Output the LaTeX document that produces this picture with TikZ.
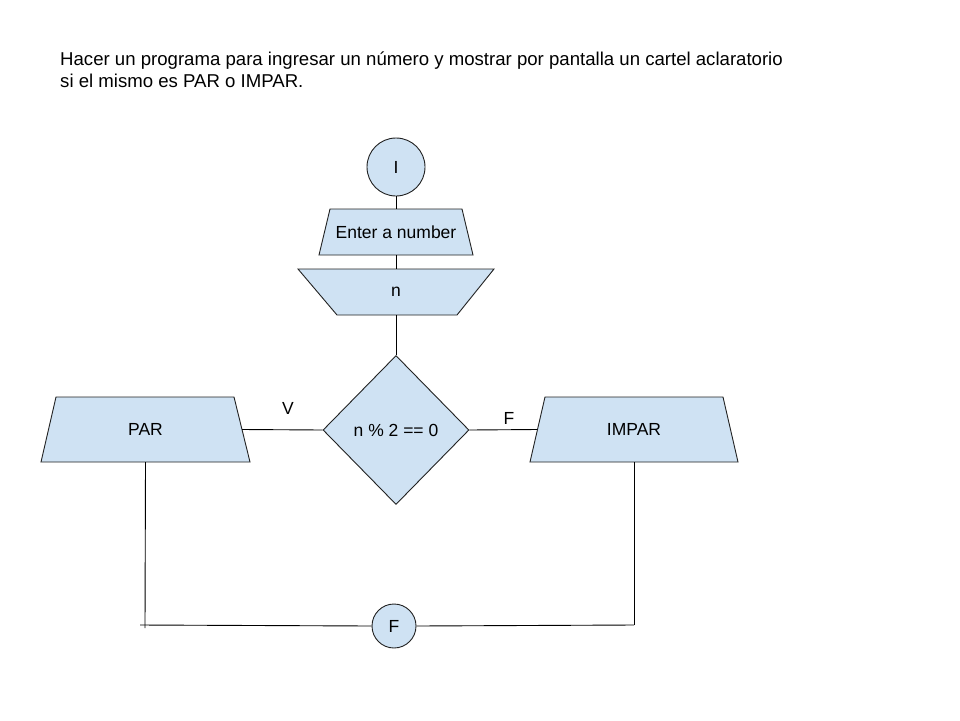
\documentclass[tikz,border=0pt]{standalone}
\usepackage{fontspec}
\setmainfont{Liberation Sans}
\usetikzlibrary{shapes.geometric,calc}
\definecolor{boxblue}{HTML}{CFE2F3}
\definecolor{edge}{HTML}{222222}
\begin{document}
\begin{tikzpicture}[x=1pt,y=-1pt,
  every node/.style={font=\fontsize{17.5}{21}\selectfont},
  hdr/.style={anchor=base west,inner sep=0pt,font=\fontsize{18.6}{22}\selectfont},
  shp/.style={fill=boxblue,draw=edge,line width=0.9pt,line join=miter},
  conn/.style={draw=black,line width=0.9pt},
  hole/.style={rectangle,inner sep=0pt,draw=none},
  term/.style={circle,fill=boxblue,draw=edge,line width=0.9pt,inner sep=0pt}]
\fill[white] (0,0) rectangle (960,720);
\useasboundingbox (0,0) rectangle (960,720);
% header
\node[hdr] (h1) at (60,65) {Hacer un programa para ingresar un número y mostrar por pantalla un cartel aclaratorio};
\node[hdr] (h2) at (60,87) {si el mismo es PAR o IMPAR.};
% shapes (polygons first)
\fill[shp] (330,209) -- (462,209) -- (473,255) -- (319,255) -- cycle;
\fill[shp] (298,269) -- (494,269) -- (457,315) -- (337,315) -- cycle;
\fill[shp] (56,397) -- (234,397) -- (250,462) -- (41,462) -- cycle;
\fill[shp] (545,397) -- (723,397) -- (738,462) -- (530,462) -- cycle;
% nodes
\node[term,minimum size=58pt] (start) at (396,167) {I};
\node[hole,minimum width=143pt,minimum height=46pt] (enter) at (396,232) {Enter a number};
\node[hole,minimum width=158pt,minimum height=46pt] (n) at (396,292) {n};
\node[diamond,fill=boxblue,draw=edge,line width=0.9pt,inner sep=0pt,minimum width=146pt,minimum height=149pt] (cond) at (396,430) {n \% 2 == 0};
\node[hole,minimum width=193pt,minimum height=65pt] (par) at (145.5,429.5) {PAR};
\node[hole,minimum width=193pt,minimum height=65pt] (impar) at (634,429.5) {IMPAR};
\node[term,minimum size=44pt] (fin) at (394,626) {F};
\node (v) at (288,408) {V};
\node (f) at (509,418) {F};
\coordinate (cl) at (145,628);
\coordinate (hl) at (140,625);
\coordinate (cr) at (634,625);
% connectors
\draw[conn] (start) -- (enter.north);
\draw[conn] (enter.south) -- (n.north);
\draw[conn] (n.south) -- (cond.north);
\draw[conn] (cond.west) -- (par.east);
\draw[conn] (cond.east) -- (impar.west);
\draw[conn] (par.south) -- (cl);
\draw[conn] (impar.south) -- (cr);
\draw[conn] (hl) -- (fin.west);
\draw[conn] (fin.east) -- (cr);
\end{tikzpicture}
\end{document}
